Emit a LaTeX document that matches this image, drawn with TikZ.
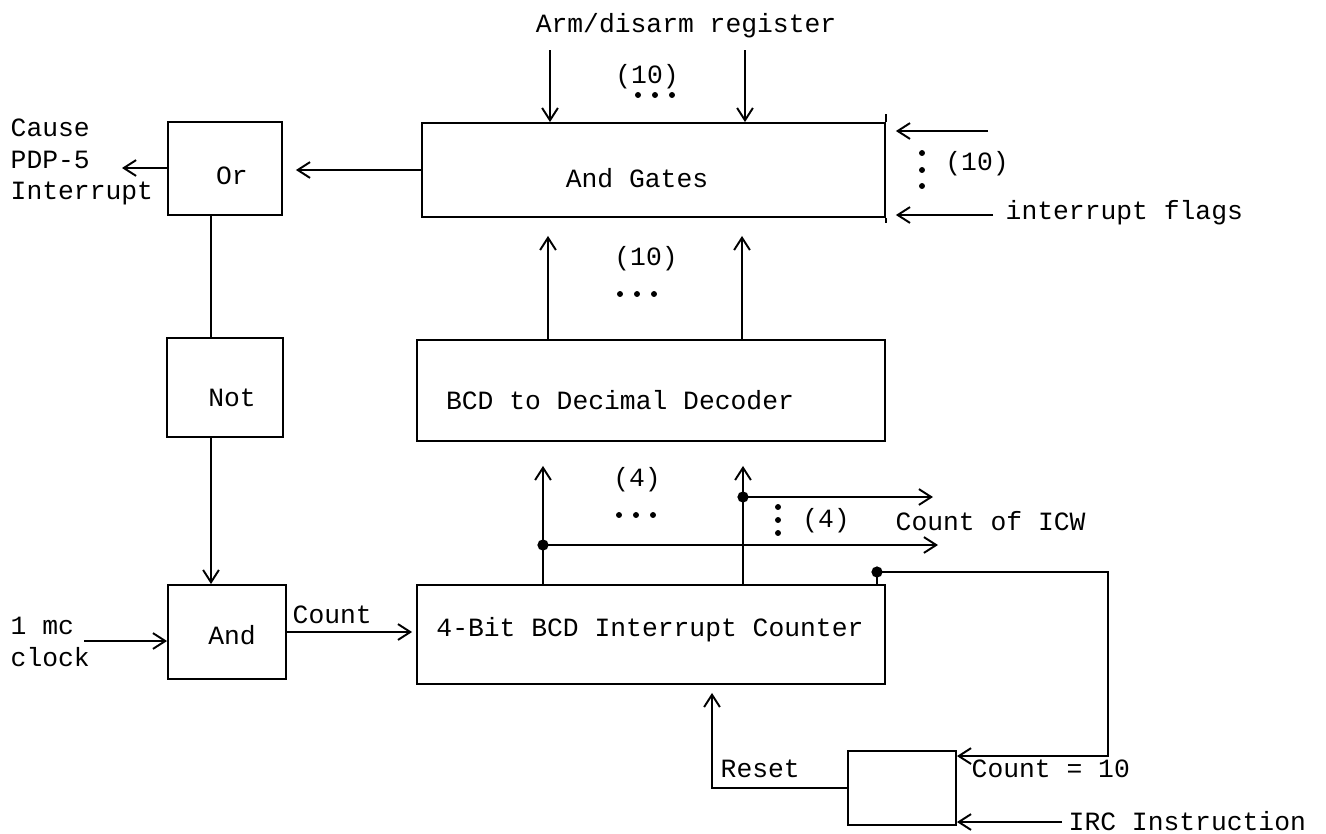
\documentclass[tikz,border=0pt]{standalone}
\usepackage{fontspec}
\setmainfont{Liberation Mono}
\usetikzlibrary{arrows.meta}

\begin{document}
\begin{tikzpicture}[x=0.02cm, y=-0.02cm, line width=1.1pt,
    every node/.style={font=\fontsize{15}{18}\selectfont, inner sep=1pt},
    blk/.style={draw, rectangle, inner sep=0pt},
    arr/.style={-{Straight Barb[length=7pt,width=9pt]}},
    jdot/.style={radius=3.2pt}]
    \useasboundingbox (0,0) rectangle (1326,833);
    % boxes
    \node[blk, minimum width=2.28cm, minimum height=1.86cm] (orgate) at (225,168.5) {};
    \node[blk, minimum width=2.32cm, minimum height=1.98cm] (notgate) at (225,387.5) {};
    \node[blk, minimum width=2.36cm, minimum height=1.88cm] (andgate) at (227,632) {};
    \node[blk, minimum width=9.26cm, minimum height=1.88cm] (gates) at (653.5,170) {};
    \node[blk, minimum width=9.36cm, minimum height=2.02cm] (decoder) at (651,390.5) {};
    \node[blk, minimum width=9.36cm, minimum height=1.98cm] (counter) at (651,634.5) {};
    \node[blk, minimum width=2.16cm, minimum height=1.48cm] (resetff) at (902,788) {};
    \node (ortxt) at (232,176) {Or};
    \node (nottxt) at (232,398) {Not};
    \node (andtxt) at (232,635) {And};
    \node (gatestxt) at (637,178) {And Gates};
    \node (dectxt) at (620,400) {BCD to Decimal Decoder};
    \node (cnttxt) at (650,630) {4-Bit BCD Interrupt Counter};
    % free texts
    \node[align=left, anchor=west] (cause) at (8,162) {Cause\\PDP-5\\Interrupt};
    \node[align=left, anchor=west] (clock) at (8,642) {1 mc\\clock};
    \node (armreg) at (686,26) {Arm/disarm register};
    \node (tena) at (647,77) {(10)};
    \node (tenb) at (646,259) {(10)};
    \node (tenc) at (977,164) {(10)};
    \node (foura) at (637,480) {(4)};
    \node (fourb) at (826,521) {(4)};
    \node[anchor=west] (flags) at (1003,213) {interrupt flags};
    \node[anchor=west] (icw) at (893,521) {Count of ICW};
    \node[anchor=west] (countlbl) at (290,615) {Count};
    \node[anchor=west] (resetlbl) at (718,769) {Reset};
    \node[anchor=west] (eqten) at (969,769) {Count = 10};
    \node[anchor=west] (irc) at (1066,821) {IRC Instruction};
    % dots
    \foreach \dx in {-17,0,17} \fill ({655+\dx},95) circle (1.7pt);
    \foreach \dx in {-17,0,17} \fill ({637+\dx},294) circle (1.7pt);
    \foreach \dx in {-17,0,17} \fill ({636+\dx},515) circle (1.7pt);
    \foreach \dy in {-17,0,16} \fill (922,{170+\dy}) circle (1.7pt);
    \foreach \dy in {-13,0,13} \fill (778,{520+\dy}) circle (1.7pt);
    % coordinates
    \coordinate (causept) at (122,168);
    \coordinate (arm1) at (550,50);
    \coordinate (arm2) at (745,50);
    \coordinate (flag1) at (988,131);
    \coordinate (flag2) at (993,215);
    \coordinate (vx) at (211,0);
    \coordinate (clk) at (84,641);
    \coordinate (bus1) at (543,545);
    \coordinate (bus2) at (743,497);
    \coordinate (icwlo) at (938,545);
    \coordinate (icwhi) at (933,497);
    \coordinate (fb) at (877,572);
    \coordinate (fbr) at (1108,572);
    \coordinate (ircin) at (1062,822);
    \coordinate (rstx) at (712,0);
    % connectors
    \draw[arr] (orgate.west |- causept) -- (causept);
    \draw[arr, shorten >=0.26cm] (gates.west) -- (gates.west -| orgate.east);
    \draw[arr] (arm1) -- (arm1 |- gates.north);
    \draw[arr] (arm2) -- (arm2 |- gates.north);
    \draw (gates.north east) -- ++(0,-8);
    \draw (gates.south east) -- ++(0,5);
    \draw[arr, shorten >=0.2cm] (flag1) -- (flag1 -| gates.east);
    \draw[arr, shorten >=0.2cm] (flag2) -- (flag2 -| gates.east);
    \draw[arr, shorten >=0.36cm] ([xshift=-0.04cm]arm1 |- decoder.north) -- ([xshift=-0.04cm]arm1 |- gates.south);
    \draw[arr, shorten >=0.36cm] ([xshift=-0.06cm]arm2 |- decoder.north) -- ([xshift=-0.06cm]arm2 |- gates.south);
    \draw (vx |- orgate.south) -- (vx |- notgate.north);
    \draw[arr] (vx |- notgate.south) -- (vx |- andgate.north);
    \draw[arr] (clk) -- (clk -| andgate.west);
    \draw[arr, shorten >=0.08cm] (andgate.east) -- (andgate.east -| counter.west);
    \draw[arr, shorten >=0.48cm] (bus1 |- counter.north) -- (bus1 |- decoder.south);
    \draw[arr, shorten >=0.48cm] (bus2 |- counter.north) -- (bus2 |- decoder.south);
    \fill (bus1) circle[jdot];
    \fill (bus2) circle[jdot];
    \draw[arr] (bus1) -- (icwlo);
    \draw[arr] (bus2) -- (icwhi);
    \draw (fb |- counter.north) -- (fb);
    \fill (fb) circle[jdot];
    \draw[arr] (fb) -- (fbr) |- ([yshift=-0.12cm]resetff.north east);
    \draw[arr] (ircin) -- (ircin -| resetff.east);
    \draw[arr, shorten >=0.16cm] (resetff.west) -| (rstx |- counter.south);
\end{tikzpicture}
\end{document}
